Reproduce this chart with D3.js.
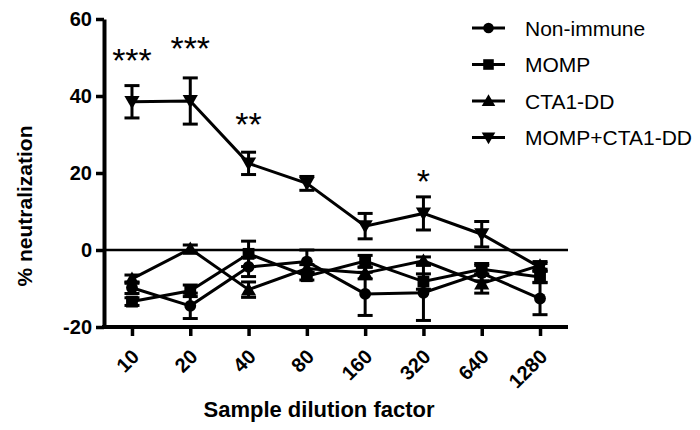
<!DOCTYPE html>
<html><head><meta charset="utf-8">
<script src="https://cdn.jsdelivr.net/npm/d3@7"></script>
<style>body{margin:0;background:#fff}svg{display:block}text{font-family:"Liberation Sans",Arial,sans-serif}</style>
</head><body><svg id="c" width="700" height="430"></svg>
<script>
const dilutions = ["10","20","40","80","160","320","640","1280"];
const seriesNames = ["Non-immune","MOMP","CTA1-DD","MOMP+CTA1-DD"];
const nonImmune    = [-9.8,-14.5,-4.4,-3.0,-11.4,-11.1,-6.0,-12.6];
const nonImmuneErr = [1.5,3.3,2.5,3.0,5.6,7.2,2.0,4.2];
const momp         = [-13.4,-10.6,-1.0,-6.8,-2.9,-8.2,-5.0,-7.0];
const mompErr      = [1.0,1.5,3.3,1.0,1.5,2.0,1.5,1.5];
const cta          = [-7.5,0.3,-10.3,-4.8,-6.0,-2.8,-8.7,-4.0];
const ctaErr       = [1.0,1.0,2.0,1.0,1.5,1.0,2.5,1.0];
const combo        = [38.5,38.7,22.5,17.3,6.2,9.5,4.1,-4.5];
const comboErr     = [4.2,6.0,2.9,1.8,3.3,4.3,3.3,1.0];
const stars = [{x:"10",label:"***",v:46.2},{x:"20",label:"***",v:49.4},{x:"40",label:"**",v:29.6},{x:"320",label:"*",v:14.8}];
const yTicks = [-20,0,20,40,60];

const svg = d3.select("#c");
const x = d3.scalePoint().domain(dilutions).range([104,568]).padding(0.48);
const y = d3.scaleLinear().domain([-20,60]).range([327,19]);

const series = [
  {name:seriesNames[0], v:nonImmune, e:nonImmuneErr, sym:d3.symbolCircle, size:110, rot:0},
  {name:seriesNames[1], v:momp, e:mompErr, sym:d3.symbolSquare, size:140, rot:0},
  {name:seriesNames[2], v:cta, e:ctaErr, sym:d3.symbolTriangle, size:100, rot:0},
  {name:seriesNames[3], v:combo, e:comboErr, sym:d3.symbolTriangle, size:100, rot:180}
];

// zero line
svg.append("line").attr("x1",104).attr("x2",568).attr("y1",y(0)).attr("y2",y(0))
  .attr("stroke","#000").attr("stroke-width",2.5);

const line = d3.line().x((d,i)=>x(dilutions[i])).y(d=>y(d));
series.forEach(s=>{
  svg.append("path").attr("d",line(s.v)).attr("fill","none").attr("stroke","#000").attr("stroke-width",3);
});
series.forEach(s=>{
  const g = svg.append("g");
  s.v.forEach((v,i)=>{
    const cx = x(dilutions[i]);
    const t = y(v+s.e[i]), b = y(v-s.e[i]);
    g.append("line").attr("x1",cx).attr("x2",cx).attr("y1",t).attr("y2",b).attr("stroke","#000").attr("stroke-width",3);
    [t,b].forEach(yy=>g.append("line").attr("x1",cx-7.5).attr("x2",cx+7.5).attr("y1",yy).attr("y2",yy).attr("stroke","#000").attr("stroke-width",3));
  });
});
series.forEach(s=>{
  const sym = d3.symbol().type(s.sym).size(s.size);
  svg.append("g").selectAll("path").data(s.v).join("path")
    .attr("d",sym)
    .attr("transform",(d,i)=>`translate(${x(dilutions[i])},${y(d)+(s.rot?-1.5:(s.sym===d3.symbolTriangle?1.5:0))}) rotate(${s.rot})`)
    .attr("fill","#000");
});

// axes
const yAxis = svg.append("g").attr("transform","translate(104,0)")
  .call(d3.axisLeft(y).tickValues(yTicks).tickFormat(d=>String(d)).tickSize(8).tickPadding(4).tickSizeOuter(0));
yAxis.select(".domain").attr("stroke-width",4);
yAxis.selectAll(".tick line").attr("stroke-width",3.5);
yAxis.selectAll(".tick text").attr("font-size",20).attr("font-weight","bold").attr("fill","#000")
  .attr("font-family","Liberation Sans, Arial, sans-serif");

const xAxis = svg.append("g").attr("transform","translate(0,327)")
  .call(d3.axisBottom(x).tickSize(9).tickSizeOuter(0));
xAxis.select(".domain").attr("stroke-width",4).attr("d","M102,0H568");
xAxis.selectAll(".tick line").attr("stroke-width",3.5);
xAxis.selectAll(".tick text").attr("font-size",20).attr("font-weight","bold").attr("fill","#000")
  .attr("font-family","Liberation Sans, Arial, sans-serif")
  .attr("text-anchor","end").attr("dy",0)
  .attr("transform","translate(8,31) rotate(-45)").attr("y",0).attr("x",0);

// axis titles
svg.append("text").attr("transform","translate(32,206) rotate(-90)").attr("text-anchor","middle")
  .attr("font-size",21).attr("font-weight","bold").text("% neutralization");
svg.append("text").attr("x",319).attr("y",417).attr("text-anchor","middle")
  .attr("font-size",22).attr("font-weight","bold").text("Sample dilution factor");

// stars
svg.selectAll(".star").data(stars).join("text").attr("class","star")
  .attr("x",d=>x(d.x)).attr("y",d=>y(d.v)).attr("text-anchor","middle").attr("font-size",34).text(d=>d.label);

// legend
const lg = svg.append("g");
series.forEach((s,i)=>{
  const yy = 28 + i*36.5;
  lg.append("line").attr("x1",472).attr("x2",505).attr("y1",yy).attr("y2",yy).attr("stroke","#000").attr("stroke-width",3);
  lg.append("path").attr("d",d3.symbol().type(s.sym).size(s.size*0.8)())
    .attr("transform",`translate(488.5,${yy+(s.rot?-1.2:(s.sym===d3.symbolTriangle?1.2:0))}) rotate(${s.rot})`);
  lg.append("text").attr("x",525).attr("y",yy).attr("dy","0.36em").attr("font-size",21).text(s.name);
});
</script></body></html>
